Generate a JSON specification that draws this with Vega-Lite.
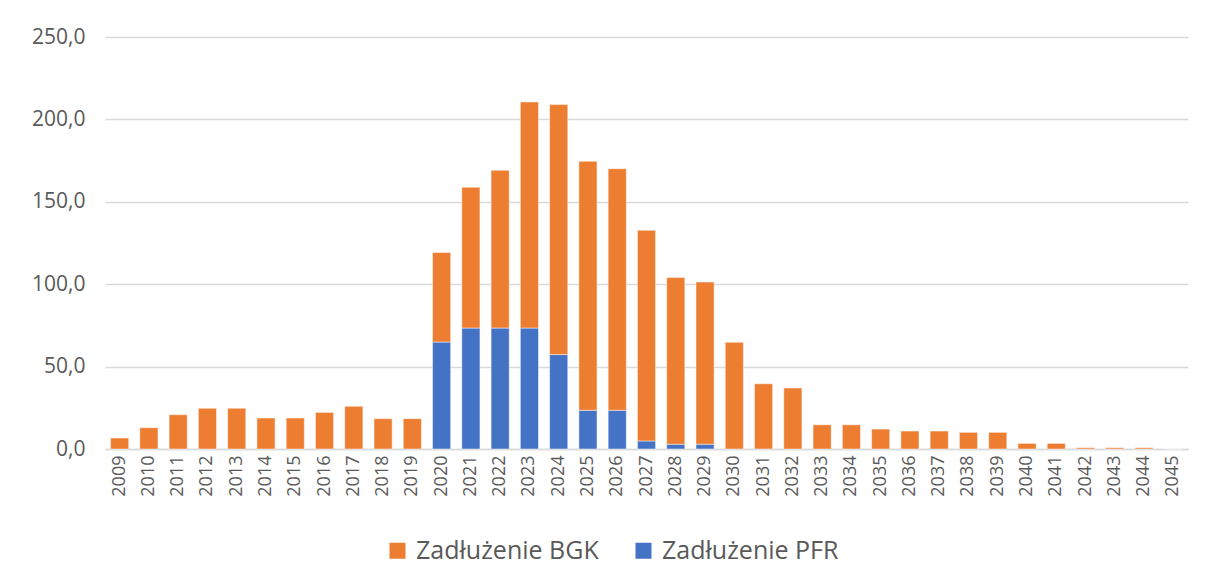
{
  "$schema": "https://vega.github.io/schema/vega-lite/v6.json",
  "autosize": {"type": "none"},
  "width": 1083,
  "height": 412,
  "padding": {"left": 105, "top": 37, "right": 27, "bottom": 136},
  "background": "white",
  "config": {
    "locale": {"number": {"decimal": ",", "thousands": " ", "grouping": [3], "currency": ["", " zł"]}},
    "font": "Open Sans",
    "view": {"stroke": null},
    "axis": {"labelColor": "#595959", "labelFont": "Open Sans", "gridColor": "#D9D9D9", "gridWidth": 1.3, "domainColor": "#D9D9D9", "domainWidth": 1.5, "ticks": false}
  },
  "data": {
    "values": [
      {"year": "2009", "series": "Zadłużenie BGK", "value": 6.7},
      {"year": "2010", "series": "Zadłużenie BGK", "value": 12.9},
      {"year": "2011", "series": "Zadłużenie BGK", "value": 20.8},
      {"year": "2012", "series": "Zadłużenie BGK", "value": 24.7},
      {"year": "2013", "series": "Zadłużenie BGK", "value": 24.7},
      {"year": "2014", "series": "Zadłużenie BGK", "value": 18.8},
      {"year": "2015", "series": "Zadłużenie BGK", "value": 18.8},
      {"year": "2016", "series": "Zadłużenie BGK", "value": 22.2},
      {"year": "2017", "series": "Zadłużenie BGK", "value": 25.9},
      {"year": "2018", "series": "Zadłużenie BGK", "value": 18.4},
      {"year": "2019", "series": "Zadłużenie BGK", "value": 18.4},
      {"year": "2020", "series": "Zadłużenie PFR", "value": 64.9},
      {"year": "2020", "series": "Zadłużenie BGK", "value": 54.3},
      {"year": "2021", "series": "Zadłużenie PFR", "value": 73.4},
      {"year": "2021", "series": "Zadłużenie BGK", "value": 85.4},
      {"year": "2022", "series": "Zadłużenie PFR", "value": 73.4},
      {"year": "2022", "series": "Zadłużenie BGK", "value": 95.7},
      {"year": "2023", "series": "Zadłużenie PFR", "value": 73.4},
      {"year": "2023", "series": "Zadłużenie BGK", "value": 137.2},
      {"year": "2024", "series": "Zadłużenie PFR", "value": 57.3},
      {"year": "2024", "series": "Zadłużenie BGK", "value": 151.7},
      {"year": "2025", "series": "Zadłużenie PFR", "value": 23.5},
      {"year": "2025", "series": "Zadłużenie BGK", "value": 151.1},
      {"year": "2026", "series": "Zadłużenie PFR", "value": 23.5},
      {"year": "2026", "series": "Zadłużenie BGK", "value": 146.6},
      {"year": "2027", "series": "Zadłużenie PFR", "value": 4.9},
      {"year": "2027", "series": "Zadłużenie BGK", "value": 127.8},
      {"year": "2028", "series": "Zadłużenie PFR", "value": 2.9},
      {"year": "2028", "series": "Zadłużenie BGK", "value": 101.1},
      {"year": "2029", "series": "Zadłużenie PFR", "value": 2.9},
      {"year": "2029", "series": "Zadłużenie BGK", "value": 98.4},
      {"year": "2030", "series": "Zadłużenie BGK", "value": 64.7},
      {"year": "2031", "series": "Zadłużenie BGK", "value": 39.6},
      {"year": "2032", "series": "Zadłużenie BGK", "value": 37.0},
      {"year": "2033", "series": "Zadłużenie BGK", "value": 14.7},
      {"year": "2034", "series": "Zadłużenie BGK", "value": 14.7},
      {"year": "2035", "series": "Zadłużenie BGK", "value": 12.1},
      {"year": "2036", "series": "Zadłużenie BGK", "value": 10.9},
      {"year": "2037", "series": "Zadłużenie BGK", "value": 10.9},
      {"year": "2038", "series": "Zadłużenie BGK", "value": 10.1},
      {"year": "2039", "series": "Zadłużenie BGK", "value": 10.1},
      {"year": "2040", "series": "Zadłużenie BGK", "value": 3.4},
      {"year": "2041", "series": "Zadłużenie BGK", "value": 3.4},
      {"year": "2042", "series": "Zadłużenie BGK", "value": 0.8},
      {"year": "2043", "series": "Zadłużenie BGK", "value": 0.8},
      {"year": "2044", "series": "Zadłużenie BGK", "value": 0.8},
      {"year": "2045", "series": "Zadłużenie BGK", "value": 0}
    ]
  },
  "transform": [
    {"calculate": "datum.series === 'Zadłużenie PFR' ? 0 : 1", "as": "stackOrder"}
  ],
  "mark": {"type": "bar", "stroke": "white", "strokeWidth": 0.8, "strokeOpacity": 0.6},
  "encoding": {
    "x": {
      "field": "year", "type": "ordinal",
      "scale": {"paddingInner": 0.38, "paddingOuter": 0.19},
      "axis": {"title": null, "labelAngle": -90, "labelFontSize": 18, "labelPadding": 6, "grid": false}
    },
    "y": {
      "field": "value", "type": "quantitative", "aggregate": "sum",
      "stack": "zero",
      "scale": {"domain": [0, 250], "nice": false},
      "axis": {"title": null, "values": [0, 50, 100, 150, 200, 250], "format": ".1f", "labelFontSize": 21, "labelPadding": 20, "domain": false, "grid": true}
    },
    "color": {
      "field": "series", "type": "nominal",
      "scale": {"domain": ["Zadłużenie BGK", "Zadłużenie PFR"], "range": ["#ED7D31", "#4472C4"]},
      "legend": {
        "title": null, "orient": "none", "direction": "horizontal",
        "legendX": 280, "legendY": 501,
        "symbolType": "square", "symbolSize": 256, "symbolStrokeWidth": 0,
        "labelFontSize": 25, "labelColor": "#595959", "labelFont": "Open Sans", "labelLimit": 400,
        "columnPadding": 32, "labelOffset": 6
      }
    },
    "order": {"field": "stackOrder", "type": "quantitative"}
  }
}
